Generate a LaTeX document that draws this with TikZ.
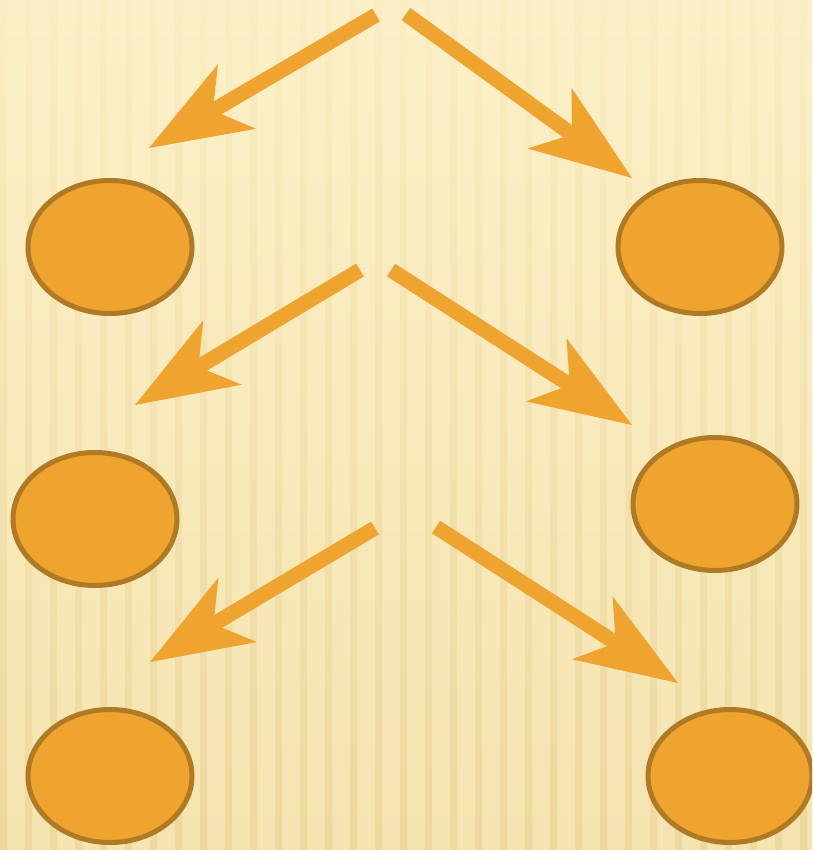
\documentclass[tikz,border=0pt]{standalone}
\usepackage{tikz}
\usetikzlibrary{shapes.geometric,arrows.meta,calc}

\definecolor{paper}{HTML}{FCF0C8}
\definecolor{paperlow}{HTML}{F5E4B0}
\definecolor{stripetop}{HTML}{FAEDC2}
\definecolor{stripelow}{HTML}{EDD89E}
\definecolor{orangefill}{HTML}{EFA430}
\definecolor{orangeline}{HTML}{B07A25}

\tikzset{
	blob/.style={ellipse, fill=orangefill, draw=orangeline, line width=0.5mm, minimum width=16.4mm, minimum height=13.3mm},
	bigarrow/.style={draw=orangefill, line width=1.5mm, -{Stealth[length=10.2mm, width=7.5mm, inset=2.8mm, line width=0pt, fill=orangefill]}}
}

\begin{document}
\begin{tikzpicture}[x=0.1mm, y=-0.1mm]
	\clip (0, 0) rectangle (812, 850);
	\fill[top color=paper, bottom color=paperlow] (0, 0) rectangle (812, 850);
	\foreach \s in {0, 25, ..., 800}
		\fill[top color=stripetop, bottom color=stripelow] (\s, 0) rectangle +(7, 850);

	\node[blob] (l1) at (110, 247) {};
	\node[blob] (r1) at (700, 247) {};
	\node[blob] (l2) at (95, 519) {};
	\node[blob] (r2) at (715, 504) {};
	\node[blob] (l3) at (110, 776) {};
	\node[blob] (r3) at (730, 776) {};

	\coordinate (a1) at (376, 15);
	\coordinate (b1) at (149, 148);
	\coordinate (a2) at (406, 14);
	\coordinate (b2) at (632, 178);
	\coordinate (a3) at (360, 270);
	\coordinate (b3) at (135, 405);
	\coordinate (a4) at (391, 270);
	\coordinate (b4) at (632, 425);
	\coordinate (a5) at (375, 528);
	\coordinate (b5) at (150, 662);
	\coordinate (a6) at (436, 527);
	\coordinate (b6) at (678, 683);

	\foreach \i in {1, ..., 6}
		\draw[bigarrow] (a\i) -- (b\i);
\end{tikzpicture}
\end{document}
